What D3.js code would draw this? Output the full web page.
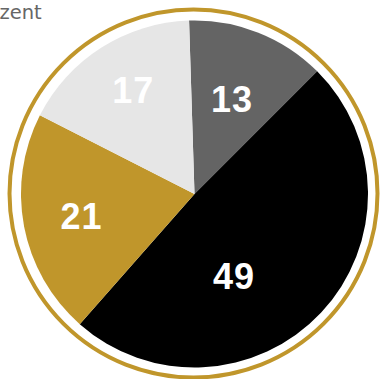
<!DOCTYPE html>
<html>
<head>
<meta charset="utf-8">
<script src="https://cdn.jsdelivr.net/npm/d3@7"></script>
<style>
  html, body { margin: 0; padding: 0; background: #fff; }
  svg { display: block; }
</style>
</head>
<body>
<svg id="chart" width="381" height="379"></svg>
<script>
// Share of responses, in percent
const categories = ["a", "b", "c", "d"];
const values = [13, 49, 21, 17];
const labels = ["13", "49", "21", "17"];
const colors = ["#646464", "#000000", "#c0962b", "#e6e6e6"];
const unitLabel = "Prozent";

// Label placement per slice: radius and angular shift (degrees) from the slice middle
const labelLayout = [
  { r: 102, shift: 0 },
  { r: 91, shift: 21 },
  { r: 115, shift: 0 },
  { r: 121, shift: 2 }
];

const svg = d3.select("#chart");
const cx = 194.5, cy = 194;
const radius = 173.5;
const ringRadius = 184;

// Unit caption, scrolled so that its first three letters sit left of the frame
const unit = svg.append("text")
  .attr("y", 19)
  .attr("font-family", "DejaVu Sans, sans-serif")
  .attr("font-size", 19.5)
  .attr("fill", "#666")
  .text(unitLabel);
const hidden = unit.node().getSubStringLength(0, 3);
unit.attr("x", -hidden - 0.5);

svg.append("circle")
  .attr("cx", cx - 1)
  .attr("cy", cy - 0.5)
  .attr("r", ringRadius)
  .attr("fill", "none")
  .attr("stroke", "#c0962b")
  .attr("stroke-width", 4);

const g = svg.append("g").attr("transform", `translate(${cx},${cy})`);

const startDeg = -1.8;
const pie = d3.pie()
  .sort(null)
  .value(d => d)
  .startAngle(startDeg * Math.PI / 180)
  .endAngle((startDeg + 360) * Math.PI / 180);

const arcs = pie(values);
const arc = d3.arc().innerRadius(0).outerRadius(radius);

g.selectAll("path.slice")
  .data(arcs)
  .join("path")
  .attr("class", "slice")
  .attr("d", arc)
  .attr("fill", (d, i) => colors[i]);

g.selectAll("text.val")
  .data(arcs)
  .join("text")
  .attr("class", "val")
  .attr("transform", (d, i) => {
    const L = labelLayout[i];
    const a = (d.startAngle + d.endAngle) / 2 + L.shift * Math.PI / 180;
    return `translate(${Math.sin(a) * L.r},${-Math.cos(a) * L.r})`;
  })
  .attr("text-anchor", "middle")
  .attr("dy", "0.36em")
  .attr("font-family", "Liberation Sans, Arial, sans-serif")
  .attr("font-weight", "bold")
  .attr("font-size", 36)
  .attr("letter-spacing", 1)
  .attr("fill", "#fff")
  .text((d, i) => labels[i]);
</script>
</body>
</html>
